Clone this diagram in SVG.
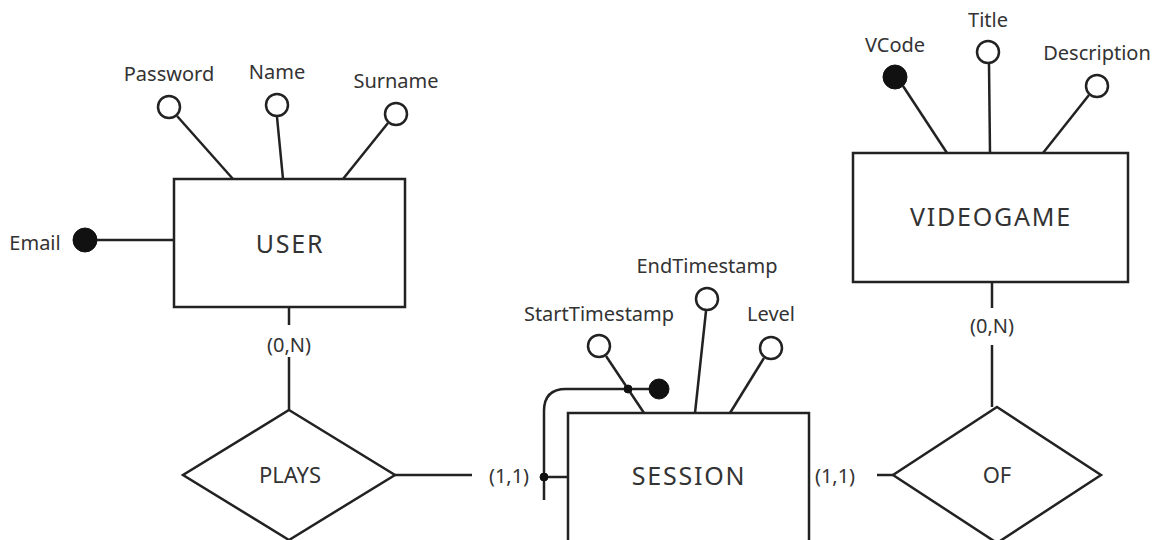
<svg xmlns="http://www.w3.org/2000/svg" width="1161" height="540" viewBox="0 0 1161 540">
<style>
.s{fill:none;stroke:#222;stroke-width:2.5}
.e{fill:#fff;stroke:#222;stroke-width:2.5}
.a{fill:#fff;stroke:#222;stroke-width:2.5}
.k{fill:#111;stroke:#111;stroke-width:1}
.t{font-family:"Noto Sans",sans-serif;font-size:20px;fill:#333;text-anchor:middle}
.r{font-family:"Noto Sans",sans-serif;font-size:22px;fill:#333;text-anchor:middle}
.n{font-family:"Noto Sans",sans-serif;font-size:25px;fill:#333;text-anchor:middle;letter-spacing:1.8px}
</style>
<rect width="1161" height="540" fill="#fff"/>
<g id="connectors">
<line class="s" x1="97" y1="240" x2="174" y2="240"/>
<line class="s" x1="177" y1="116" x2="233" y2="179"/>
<line class="s" x1="277" y1="117" x2="283" y2="179"/>
<line class="s" x1="388" y1="123" x2="343" y2="179"/>
<line class="s" x1="289" y1="307" x2="289" y2="325"/>
<line class="s" x1="289" y1="357" x2="289" y2="410"/>
<line class="s" x1="395" y1="475" x2="472" y2="475"/>
<line class="s" x1="606" y1="356" x2="644" y2="413"/>
<line class="s" x1="706" y1="311" x2="695" y2="413"/>
<line class="s" x1="764" y1="358" x2="730" y2="413"/>
<path class="s" d="M544 500 V411 Q544 389 566 389 H659"/>
<line class="s" x1="544" y1="477" x2="568" y2="477"/>
<line class="s" x1="877" y1="475" x2="893" y2="475"/>
<line class="s" x1="992" y1="282" x2="992" y2="308"/>
<line class="s" x1="992" y1="345" x2="992" y2="407"/>
<line class="s" x1="903" y1="86" x2="947" y2="153"/>
<line class="s" x1="989" y1="64" x2="990" y2="153"/>
<line class="s" x1="1089" y1="95" x2="1043" y2="153"/>
<circle class="k" cx="628" cy="389" r="4"/>
<circle class="k" cx="544" cy="477" r="4"/>
</g>
<g id="user">
<rect class="e" x="174" y="179" width="231" height="128"/>
<text class="n" x="290" y="253">USER</text>
</g>
<g id="attr-email">
<circle class="k" cx="85" cy="240" r="12"/>
<text class="t" x="35" y="250">Email</text>
</g>
<g id="attr-password">
<circle class="a" cx="169" cy="107" r="11"/>
<text class="t" x="169" y="81">Password</text>
</g>
<g id="attr-name">
<circle class="a" cx="277" cy="105" r="11"/>
<text class="t" x="277" y="79">Name</text>
</g>
<g id="attr-surname">
<circle class="a" cx="396" cy="114" r="11"/>
<text class="t" x="396" y="88">Surname</text>
</g>
<g id="card-user">
<text class="t" x="289" y="352">(0,N)</text>
</g>
<g id="plays">
<polygon class="e" points="289,410 395,475 289,540 183,475"/>
<text class="r" x="290" y="483">PLAYS</text>
</g>
<g id="card-plays-session">
<text class="t" x="509" y="483">(1,1)</text>
</g>
<g id="session">
<rect class="e" x="568" y="413" width="241" height="140"/>
<text class="n" x="689" y="485">SESSION</text>
</g>
<g id="session-id">
<circle class="k" cx="659" cy="389" r="10"/>
</g>
<g id="attr-start">
<circle class="a" cx="599" cy="346" r="11"/>
<text class="t" x="599" y="321">StartTimestamp</text>
</g>
<g id="attr-end">
<circle class="a" cx="707" cy="299" r="11"/>
<text class="t" x="707" y="273">EndTimestamp</text>
</g>
<g id="attr-level">
<circle class="a" cx="771" cy="348" r="11"/>
<text class="t" x="771" y="321">Level</text>
</g>
<g id="card-session-of">
<text class="t" x="835" y="483">(1,1)</text>
</g>
<g id="of">
<polygon class="e" points="997,407 1101,475 997,543 893,475"/>
<text class="r" x="997" y="483">OF</text>
</g>
<g id="card-videogame">
<text class="t" x="992" y="333">(0,N)</text>
</g>
<g id="videogame">
<rect class="e" x="853" y="153" width="275" height="129"/>
<text class="n" x="991" y="226">VIDEOGAME</text>
</g>
<g id="attr-vcode">
<circle class="k" cx="895" cy="77" r="12"/>
<text class="t" x="895" y="52">VCode</text>
</g>
<g id="attr-title">
<circle class="a" cx="988" cy="52" r="11"/>
<text class="t" x="988" y="27">Title</text>
</g>
<g id="attr-description">
<circle class="a" cx="1097" cy="86" r="11"/>
<text class="t" x="1097" y="60">Description</text>
</g>
</svg>
